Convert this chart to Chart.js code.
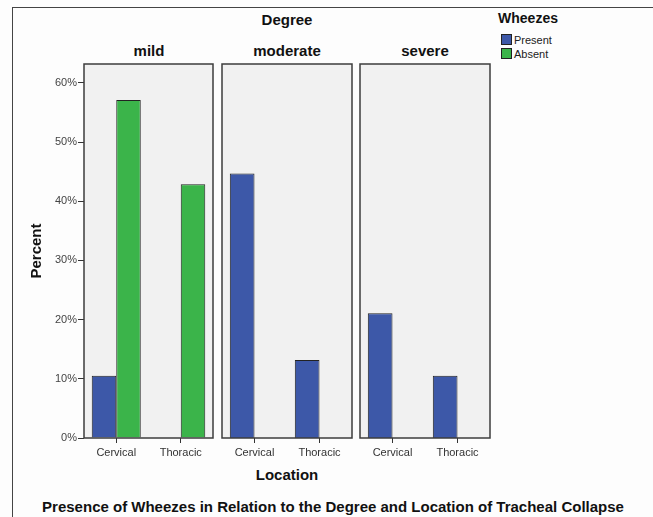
<!DOCTYPE html>
<html>
<head>
<meta charset="utf-8">
<script src="https://cdn.jsdelivr.net/npm/chart.js@4.4.0/dist/chart.umd.min.js"></script>
<style>
  body { margin: 0; background: #fff; }
  #wrap { position: relative; width: 653px; height: 517px; background: #fdfdfd; overflow: hidden;
          font-family: "Liberation Sans", Arial, sans-serif; }
  .frame-top { position: absolute; left: 12px; top: 7px; right: 0; height: 0; border-top: 1.5px solid #444; }
  .frame-left { position: absolute; left: 12px; top: 7px; bottom: 0; width: 0; border-left: 1.5px solid #444; }
  canvas { position: absolute; }
  .lbl { position: absolute; font-weight: bold; color: #111; white-space: nowrap; transform: translateX(-50%); }
  .legend { position: absolute; left: 501px; top: 33px; font-size: 11px; color: #222; line-height: 14px; }
  .legend span.box { display: inline-block; width: 9px; height: 9px; border: 1px solid #222; margin-right: 2px; vertical-align: -1px; }
</style>
</head>
<body>
<div id="wrap">
  <div class="frame-top"></div>
  <div class="frame-left"></div>
  <div class="lbl" style="left:287px; top:11px; font-size:15px;">Degree</div>
  <div class="lbl" style="left:149px; top:42px; font-size:15px;">mild</div>
  <div class="lbl" style="left:287px; top:42px; font-size:15px;">moderate</div>
  <div class="lbl" style="left:425px; top:42px; font-size:15px;">severe</div>
  <div class="lbl" style="left:528px; top:10px; font-size:14px;">Wheezes</div>
  <div class="legend">
    <div><span class="box" style="background:#3d58a8"></span>Present</div>
    <div><span class="box" style="background:#3bb44a"></span>Absent</div>
  </div>
  <div class="lbl" style="left:287px; top:466px; font-size:15px;">Location</div>
  <div class="lbl" style="left:333px; top:498px; font-size:15px;">Presence of Wheezes in Relation to the Degree and Location of Tracheal Collapse</div>
  <canvas id="c1"></canvas>
  <canvas id="c2"></canvas>
  <canvas id="c3"></canvas>
</div>
<script>
// data (percent)
const locations = ["Cervical", "Thoracic"];
const mildPresent = [10.5, 0];
const mildAbsent = [57.1, 42.9];
const moderatePresent = [44.7, 13.2];
const moderateAbsent = [0, 0];
const severePresent = [21.1, 10.5];
const severeAbsent = [0, 0];
const yTicks = [0, 10, 20, 30, 40, 50, 60];

const PRESENT_COLOR = "#3d58a8";
const ABSENT_COLOR = "#3bb44a";

// panel box behind the bars
const panelBox = {
  id: "panelBox",
  beforeDatasetsDraw(chart) {
    const { ctx, chartArea: a } = chart;
    ctx.save();
    ctx.fillStyle = "#f1f1f1";
    ctx.fillRect(a.left, a.top, a.right - a.left, a.bottom - a.top);
    ctx.restore();
  },
  afterDatasetsDraw(chart) {
    const { ctx, chartArea: a } = chart;
    ctx.save();
    ctx.strokeStyle = "#3c3c3c";
    ctx.lineWidth = 1.5;
    ctx.strokeRect(a.left, a.top, a.right - a.left, a.bottom - a.top);
    ctx.restore();
  },
};

const PANEL_TOP = 64;
const PANEL_BOTTOM = 438;
const PAD = 8;
const X_AXIS_H = 22;

function makePanel(id, panelLeft, panelRight, present, absent, showY) {
  const leftReserve = showY ? 64 : 0;
  const canvas = document.getElementById(id);
  const w = leftReserve + (panelRight - panelLeft) + PAD * (showY ? 1 : 2);
  const h = PANEL_BOTTOM - PANEL_TOP + PAD + X_AXIS_H;
  canvas.width = w;
  canvas.height = h;
  canvas.style.width = w + "px";
  canvas.style.height = h + "px";
  canvas.style.left = (panelLeft - leftReserve - (showY ? 0 : PAD)) + "px";
  canvas.style.top = (PANEL_TOP - PAD) + "px";

  return new Chart(canvas.getContext("2d"), {
    type: "bar",
    data: {
      labels: locations,
      datasets: [
        {
          label: "Present",
          data: present,
          backgroundColor: PRESENT_COLOR,
          borderColor: "#222",
          borderWidth: 1,
        },
        {
          label: "Absent",
          data: absent,
          backgroundColor: ABSENT_COLOR,
          borderColor: "#222",
          borderWidth: 1,
        },
      ],
    },
    options: {
      responsive: false,
      animation: false,
      devicePixelRatio: 1,
      layout: { padding: { left: showY ? 0 : PAD, right: PAD, top: PAD, bottom: 0 } },
      datasets: { bar: { categoryPercentage: 0.76, barPercentage: 1 } },
      plugins: { legend: { display: false }, tooltip: { enabled: false } },
      scales: {
        x: {
          afterFit(scale) { scale.height = X_AXIS_H; },
          border: { display: false },
          grid: { offset: false, drawOnChartArea: false, tickLength: 5, color: "#333" },
          ticks: { padding: 3, color: "#333", font: { family: "Liberation Sans", size: 11 } },
        },
        y: {
          display: showY,
          min: 0,
          max: 63.2,
          afterFit(scale) { scale.width = leftReserve; },
          afterBuildTicks(scale) { scale.ticks = yTicks.map(v => ({ value: v })); },
          border: { display: false },
          grid: { drawOnChartArea: false, tickLength: 6, color: "#333" },
          ticks: {
            padding: 1,
            color: "#444",
            font: { family: "Liberation Sans", size: 11 },
            callback: v => v + "%",
          },
          title: {
            display: true,
            text: "Percent",
            color: "#111",
            padding: { top: 8, bottom: 0 },
            font: { family: "Liberation Sans", size: 15, weight: "bold" },
          },
        },
      },
    },
    plugins: [panelBox],
  });
}

makePanel("c1", 84, 213, mildPresent, mildAbsent, true);
makePanel("c2", 222, 352, moderatePresent, moderateAbsent, false);
makePanel("c3", 360, 490, severePresent, severeAbsent, false);
</script>
</body>
</html>
